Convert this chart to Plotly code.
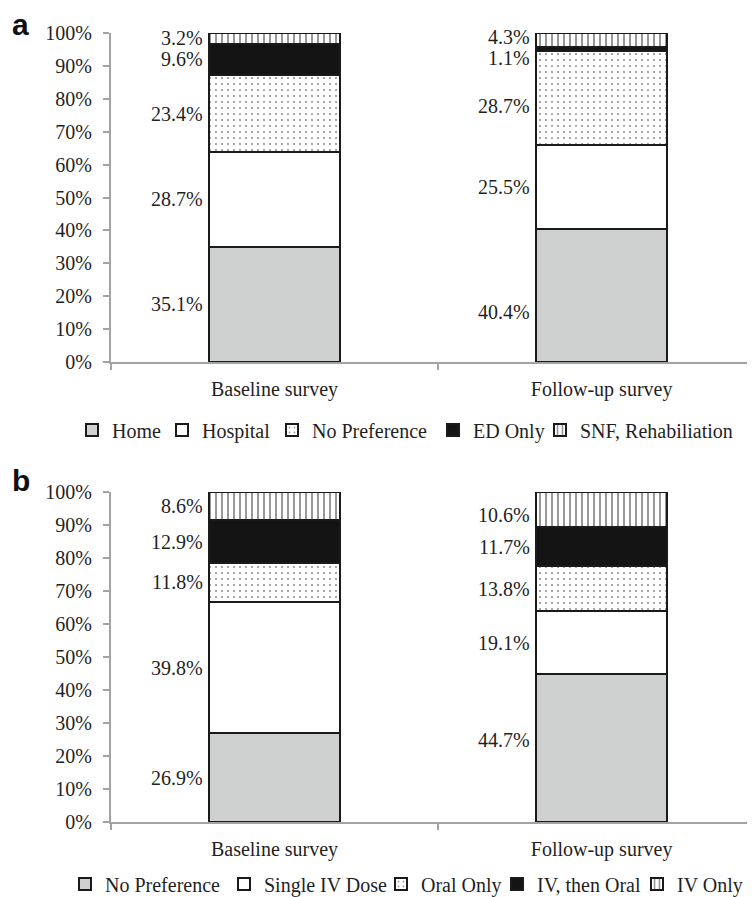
import plotly.graph_objects as go

# ---------------- data ----------------
categories = ["Baseline survey", "Follow-up survey"]

a_series = ["Home", "Hospital", "No Preference", "ED Only", "SNF, Rehabiliation"]
a_home = [35.1, 40.4]
a_hospital = [28.7, 25.5]
a_no_preference = [23.4, 28.7]
a_ed_only = [9.6, 1.1]
a_snf_rehab = [3.2, 4.3]

b_series = ["No Preference", "Single IV Dose", "Oral Only", "IV, then Oral", "IV Only"]
b_no_preference = [26.9, 44.7]
b_single_iv = [39.8, 19.1]
b_oral_only = [11.8, 13.8]
b_iv_then_oral = [12.9, 11.7]
b_iv_only = [8.6, 10.6]

y_tick_values = [0, 10, 20, 30, 40, 50, 60, 70, 80, 90, 100]
y_tick_labels = ["0%", "10%", "20%", "30%", "40%", "50%", "60%", "70%", "80%", "90%", "100%"]

# ---------------- styles / layout constants ----------------
PAGE_W, PAGE_H = 755, 897
OFF = 8                      # default page margin around the figure
W, H = PAGE_W - OFF, PAGE_H - OFF
# plot area in page pixels
PL, PR, PT, PB = 111, 755, 33, 822
M_L, M_R, M_T, M_B = PL - OFF, PAGE_W - PR, PT - OFF, PAGE_H - PB

SERIF = "Liberation Serif, Times New Roman, serif"
TEXT = "#1f1f1f"
EDGE = "#1a1a1a"
AXIS = "#a3a3a3"


def paper_x(page_px):
    return (page_px - PL) / (PR - PL)


def paper_y(page_py):
    return (PB - page_py) / (PB - PT)


def cont_x(page_px):
    return (page_px - OFF) / W


def cont_y(page_py):
    return 1 - (page_py - OFF) / H


fill_styles = [
    dict(color="#cfd1d0"),
    dict(color="#ffffff"),
    dict(color="#ffffff", pattern=dict(shape=".", size=6, solidity=0.1,
                                       fgcolor="#222222", bgcolor="#ffffff", fillmode="overlay")),
    dict(color="#141414"),
    dict(color="#ffffff", pattern=dict(shape="|", size=6, solidity=0.3,
                                       fgcolor="#1a1a1a", bgcolor="#ffffff", fillmode="overlay")),
]

# pixel nudges for labels that the original placed off-centre
label_nudge = {
    ("a", 1, 4): 3,
    ("a", 1, 3): -9,
    ("a", 1, 2): -8,
    ("a", 1, 0): -16,
    ("b", 1, 0): 8,
    ("b", 1, 4): -5,
}

# legend key positions (page x of each key's left anchor, page y of the row centre)
legend_rows = {
    "a": dict(y=430, xs=[72, 162, 272, 433, 540]),
    "b": dict(y=884, xs=[65, 224, 381, 497, 637]),
}

fig = go.Figure()
annotations = []
layout_legends = {}

panels = [
    ("a", "x", "y", 0, a_series,
     [a_home, a_hospital, a_no_preference, a_ed_only, a_snf_rehab]),
    ("b", "x2", "y2", 5, b_series,
     [b_no_preference, b_single_iv, b_oral_only, b_iv_then_oral, b_iv_only]),
]

legend_common = dict(
    orientation="h", xanchor="left", yanchor="middle", traceorder="normal",
    xref="container", yref="container",
    font=dict(family=SERIF, size=20, color=TEXT), bgcolor="rgba(0,0,0,0)",
    borderwidth=0, itemclick=False, itemdoubleclick=False,
)

BAR_W = 0.4
for key, xa, ya, lg_offset, names, values in panels:
    cum = [0.0 for _ in categories]
    row = legend_rows[key]
    for s, (name, vals) in enumerate(zip(names, values)):
        st = fill_styles[s]
        marker = dict(color=st["color"], line=dict(color=EDGE, width=2))
        if "pattern" in st:
            marker["pattern"] = st["pattern"]
        lg_index = lg_offset + s + 1
        lg_name = "legend" if lg_index == 1 else f"legend{lg_index}"
        layout_legends[lg_name] = dict(x=cont_x(row["xs"][s]), y=cont_y(row["y"]), **legend_common)
        fig.add_trace(go.Bar(
            x=categories, y=vals, name=name, xaxis=xa, yaxis=ya, legend=lg_name,
            width=BAR_W, marker=marker, showlegend=True, hoverinfo="skip",
        ))
        for i, v in enumerate(vals):
            center = cum[i] + v / 2.0
            cum[i] += v
            annotations.append(dict(
                x=i - BAR_W / 2, y=center, xref=xa, yref=ya,
                text=f"{v:.1f}%", showarrow=False,
                xanchor="right", yanchor="middle", xshift=-4,
                yshift=label_nudge.get((key, i, s), 0),
                font=dict(family=SERIF, size=20, color=TEXT),
            ))

# panel letters
for letter, ypx in (("a", 24), ("b", 480)):
    annotations.append(dict(text=f"<b>{letter}</b>", x=paper_x(10), y=paper_y(ypx),
                            xref="paper", yref="paper",
                            xanchor="left", yanchor="middle", showarrow=False,
                            font=dict(family="Liberation Sans, Arial, sans-serif", size=30, color="#111111")))

xaxis_common = dict(
    type="category", range=[-0.5, 1.469], showgrid=False, zeroline=False,
    showline=True, linecolor=AXIS, linewidth=2,
    ticks="outside", tickson="boundaries", ticklen=6, tickcolor=AXIS, tickwidth=1.5,
    tickfont=dict(family=SERIF, size=20, color=TEXT), ticklabelstandoff=8,
    automargin=False, fixedrange=True,
)
yaxis_common = dict(
    range=[0, 100], tickvals=y_tick_values, ticktext=y_tick_labels,
    showgrid=False, zeroline=False, showline=True, linecolor=AXIS, linewidth=2,
    ticks="outside", ticklen=6, tickcolor=AXIS, tickwidth=1.5,
    tickfont=dict(family=SERIF, size=20, color=TEXT), ticklabelstandoff=7,
    automargin=False, fixedrange=True,
)

fig.update_layout(
    template="none",
    width=W, height=H,
    margin=dict(l=M_L, r=M_R, t=M_T, b=M_B, autoexpand=False),
    paper_bgcolor="white", plot_bgcolor="white",
    barmode="stack",
    xaxis=dict(domain=[0, 1], anchor="y", **xaxis_common),
    yaxis=dict(domain=[paper_y(362), 1.0], anchor="x", **yaxis_common),
    xaxis2=dict(domain=[0, 1], anchor="y2", **xaxis_common),
    yaxis2=dict(domain=[0.0, paper_y(492)], anchor="x2", **yaxis_common),
    annotations=annotations,
    showlegend=True,
    **layout_legends,
)

fig.write_html("out.html")
